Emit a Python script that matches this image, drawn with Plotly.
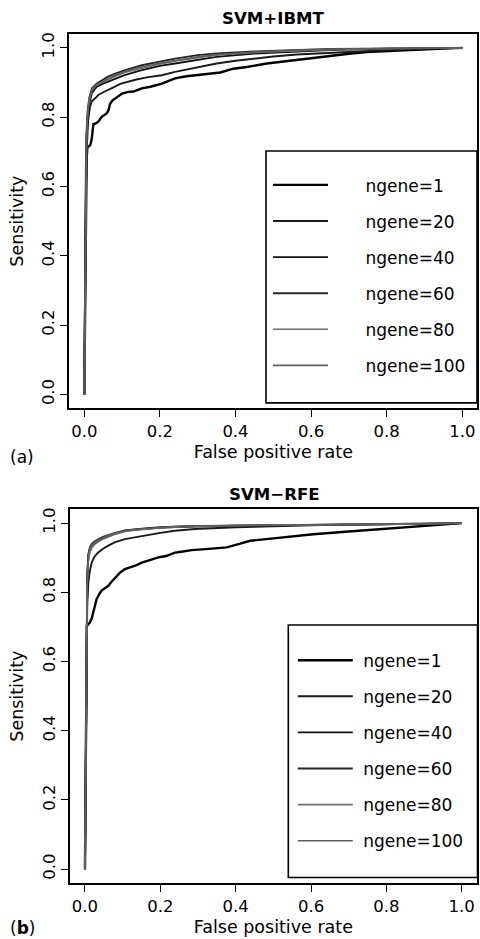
import plotly.graph_objects as go

W, H = 480, 939

series_names = ["ngene=1", "ngene=20", "ngene=40", "ngene=60", "ngene=80", "ngene=100"]

# ---------------- Panel (a): SVM+IBMT ----------------
a_x1 = [0, 0.002, 0.004, 0.006, 0.008, 0.012, 0.016, 0.02, 0.024, 0.03, 0.037, 0.046, 0.059, 0.064,
        0.068, 0.074, 0.081, 0.09, 0.1, 0.116, 0.13, 0.152, 0.175, 0.205, 0.225, 0.24, 0.27, 0.293,
        0.33, 0.36, 0.394, 0.43, 0.483, 0.53, 0.57, 0.606, 0.659, 0.7, 0.747, 0.782, 0.835, 0.9, 0.95, 1.0]
a_y1 = [0, 0.25, 0.5, 0.68, 0.712, 0.715, 0.72, 0.74, 0.78, 0.782, 0.787, 0.801, 0.811, 0.82,
        0.838, 0.848, 0.854, 0.862, 0.868, 0.873, 0.874, 0.883, 0.888, 0.897, 0.905, 0.912, 0.918, 0.921,
        0.924, 0.929, 0.94, 0.945, 0.955, 0.961, 0.967, 0.971, 0.979, 0.983, 0.988, 0.99, 0.993, 0.996, 0.998, 1.0]

a_x20 = [0, 0.002, 0.004, 0.007, 0.01, 0.015, 0.02, 0.03, 0.037, 0.05, 0.063, 0.077, 0.095, 0.112,
         0.135, 0.165, 0.205, 0.24, 0.293, 0.35, 0.4, 0.45, 0.5, 0.562, 0.65, 0.72, 0.782, 0.85, 0.92, 1.0]
a_y20 = [0, 0.3, 0.58, 0.72, 0.79, 0.83, 0.846, 0.856, 0.864, 0.872, 0.878, 0.886, 0.896, 0.902,
         0.908, 0.915, 0.921, 0.931, 0.943, 0.955, 0.963, 0.97, 0.975, 0.981, 0.986, 0.99, 0.993, 0.996, 0.998, 1.0]

a_xc = [0, 0.002, 0.004, 0.006, 0.009, 0.013, 0.02, 0.033, 0.05, 0.063, 0.08, 0.108, 0.152, 0.2,
        0.24, 0.3, 0.35, 0.45, 0.55, 0.65, 0.75, 0.85, 1.0]
a_y40 = [0, 0.35, 0.62, 0.74, 0.8, 0.84, 0.87, 0.888, 0.897, 0.903, 0.91, 0.922, 0.936, 0.948,
         0.955, 0.966, 0.974, 0.984, 0.99, 0.994, 0.997, 0.999, 1.0]
a_y60 = [0, 0.38, 0.65, 0.76, 0.82, 0.855, 0.883, 0.897, 0.908, 0.917, 0.925, 0.936, 0.95, 0.96,
         0.969, 0.979, 0.984, 0.99, 0.994, 0.997, 0.998, 0.999, 1.0]
a_y80 = [0, 0.36, 0.64, 0.75, 0.81, 0.85, 0.878, 0.893, 0.902, 0.909, 0.917, 0.93, 0.942, 0.953,
         0.962, 0.972, 0.979, 0.987, 0.992, 0.995, 0.997, 0.999, 1.0]
a_y100 = [0, 0.37, 0.63, 0.75, 0.815, 0.852, 0.88, 0.895, 0.904, 0.912, 0.92, 0.932, 0.945, 0.956,
          0.964, 0.974, 0.981, 0.988, 0.993, 0.996, 0.998, 0.999, 1.0]

# ---------------- Panel (b): SVM-RFE ----------------
b_x1 = [0, 0.002, 0.003, 0.004, 0.005, 0.008, 0.013, 0.018, 0.022, 0.027, 0.031, 0.038, 0.044, 0.053,
        0.062, 0.07, 0.08, 0.093, 0.106, 0.12, 0.133, 0.151, 0.17, 0.195, 0.215, 0.239, 0.26, 0.283,
        0.32, 0.376, 0.41, 0.438, 0.5, 0.606, 0.7, 0.783, 0.85, 0.92, 0.96, 1.0]
b_y1 = [0, 0.3, 0.55, 0.67, 0.704, 0.706, 0.713, 0.725, 0.742, 0.765, 0.781, 0.795, 0.805, 0.812,
        0.819, 0.83, 0.843, 0.857, 0.867, 0.872, 0.877, 0.886, 0.893, 0.901, 0.905, 0.915, 0.918, 0.922,
        0.925, 0.93, 0.94, 0.949, 0.956, 0.968, 0.976, 0.983, 0.988, 0.994, 0.998, 1.0]

b_xc = [0, 0.002, 0.004, 0.006, 0.009, 0.013, 0.018, 0.025, 0.035, 0.048, 0.062, 0.08, 0.106, 0.13,
        0.151, 0.2, 0.239, 0.292, 0.4, 0.518, 0.65, 0.783, 0.9, 1.0]
b_y20 = [0, 0.35, 0.62, 0.76, 0.829, 0.862, 0.886, 0.903, 0.915, 0.926, 0.935, 0.945, 0.954, 0.959,
         0.963, 0.972, 0.978, 0.983, 0.988, 0.992, 0.995, 0.997, 0.999, 1.0]
b_y40 = [0, 0.4, 0.7, 0.84, 0.905, 0.925, 0.935, 0.942, 0.949, 0.957, 0.963, 0.97, 0.978, 0.981,
         0.983, 0.987, 0.989, 0.991, 0.993, 0.994, 0.995, 0.996, 0.998, 1.0]
b_y60 = [0, 0.42, 0.72, 0.85, 0.91, 0.93, 0.94, 0.947, 0.953, 0.96, 0.965, 0.972, 0.979, 0.982,
         0.984, 0.988, 0.99, 0.992, 0.993, 0.994, 0.995, 0.996, 0.998, 1.0]
b_y80 = [0, 0.38, 0.68, 0.82, 0.89, 0.915, 0.928, 0.938, 0.946, 0.954, 0.96, 0.968, 0.976, 0.98,
         0.982, 0.986, 0.989, 0.991, 0.993, 0.994, 0.995, 0.996, 0.998, 1.0]
b_y100 = [0, 0.41, 0.71, 0.845, 0.908, 0.927, 0.938, 0.945, 0.951, 0.958, 0.964, 0.971, 0.978, 0.981,
          0.983, 0.987, 0.99, 0.992, 0.993, 0.994, 0.995, 0.996, 0.998, 1.0]

tick_vals = [0.0, 0.2, 0.4, 0.6, 0.8, 1.0]
tick_text = ["0.0", "0.2", "0.4", "0.6", "0.8", "1.0"]

line_colors = ["#000000", "#1a1a1a", "#111111", "#262626", "#6e6e6e", "#5e5e5e"]
line_widths = [2.4, 1.9, 1.9, 1.9, 1.6, 1.6]

FONT = "DejaVu Sans"
NB = "\u00a0"

fig = go.Figure()

panel_a = [(a_x1, a_y1), (a_x20, a_y20), (a_xc, a_y40), (a_xc, a_y60), (a_xc, a_y80), (a_xc, a_y100)]
panel_b = [(b_x1, b_y1), (b_xc, b_y20), (b_xc, b_y40), (b_xc, b_y60), (b_xc, b_y80), (b_xc, b_y100)]

for i, (xs, ys) in enumerate(panel_a):
    fig.add_trace(go.Scatter(x=xs, y=ys, mode="lines", name=NB * 6 + series_names[i],
                             line=dict(color=line_colors[i], width=line_widths[i]),
                             xaxis="x", yaxis="y", legend="legend", legendgroup="a%d" % i))
for i, (xs, ys) in enumerate(panel_b):
    fig.add_trace(go.Scatter(x=xs, y=ys, mode="lines", name=NB + series_names[i],
                             line=dict(color=line_colors[i], width=line_widths[i]),
                             xaxis="x2", yaxis="y2", legend="legend2", legendgroup="b%d" % i))


def px_x(p):
    return p / W


def px_y(p):
    return 1 - p / H


axis_common = dict(range=[-0.04, 1.04], tickvals=tick_vals, ticktext=tick_text,
                   ticks="outside", ticklen=7, tickwidth=1.3, tickcolor="black",
                   showline=True, mirror=True, linecolor="black", linewidth=1.6,
                   showgrid=False, zeroline=False,
                   tickfont=dict(family=FONT, size=16.5, color="black"))

fig.update_layout(
    width=W, height=H, margin=dict(l=0, r=0, t=0, b=0),
    paper_bgcolor="white", plot_bgcolor="white",
    font=dict(family=FONT, color="black"),
    xaxis=dict(domain=[px_x(69.2), px_x(477.4)], anchor="y",
               title=dict(text="False positive rate", font=dict(size=17.5), standoff=6),
               **axis_common),
    yaxis=dict(domain=[px_y(407.2), px_y(32.1)], anchor="x", tickangle=-90,
               title=dict(text="Sensitivity", font=dict(size=17.5), standoff=11),
               **axis_common),
    xaxis2=dict(domain=[px_x(69.9), px_x(476.8)], anchor="y2",
                title=dict(text="False positive rate", font=dict(size=17.5), standoff=6),
                **axis_common),
    yaxis2=dict(domain=[px_y(882.9), px_y(508.4)], anchor="x2", tickangle=-90,
                title=dict(text="Sensitivity", font=dict(size=17.5), standoff=11),
                **axis_common),
    legend=dict(x=px_x(268), y=px_y(165.7), xanchor="left", yanchor="top",
                bgcolor="rgba(0,0,0,0)", borderwidth=0, itemwidth=55,
                tracegroupgap=11, font=dict(family=FONT, size=17)),
    legend2=dict(x=px_x(292.8), y=px_y(642), xanchor="left", yanchor="top",
                 bgcolor="rgba(0,0,0,0)", borderwidth=0, itemwidth=55,
                 tracegroupgap=11, font=dict(family=FONT, size=17)),
    showlegend=True,
)

# legend frames
fig.add_shape(type="rect", xref="paper", yref="paper",
              x0=px_x(266), x1=px_x(477), y0=px_y(401.7), y1=px_y(149.3),
              line=dict(color="black", width=1.6), fillcolor="rgba(0,0,0,0)")
fig.add_shape(type="rect", xref="paper", yref="paper",
              x0=px_x(288.3), x1=px_x(477.5), y0=px_y(877.3), y1=px_y(624.3),
              line=dict(color="black", width=1.6), fillcolor="rgba(0,0,0,0)")

# panel titles and labels
fig.add_annotation(text="<b>SVM+IBMT</b>", x=px_x(273), y=px_y(17), xref="paper", yref="paper",
                   showarrow=False, font=dict(family=FONT, size=16.6), xanchor="center", yanchor="middle")
fig.add_annotation(text="<b>SVM\u2212RFE</b>", x=px_x(274), y=px_y(494), xref="paper", yref="paper",
                   showarrow=False, font=dict(family=FONT, size=16.6), xanchor="center", yanchor="middle")
fig.add_annotation(text="(a)", x=px_x(22), y=px_y(456), xref="paper", yref="paper",
                   showarrow=False, font=dict(family=FONT, size=17), xanchor="center", yanchor="middle")
fig.add_annotation(text="(<b>b</b>)", x=px_x(22), y=px_y(928), xref="paper", yref="paper",
                   showarrow=False, font=dict(family=FONT, size=17), xanchor="center", yanchor="middle")

fig.write_html("out.html", config={"displayModeBar": False},
               post_script="document.body.style.margin='0';")
